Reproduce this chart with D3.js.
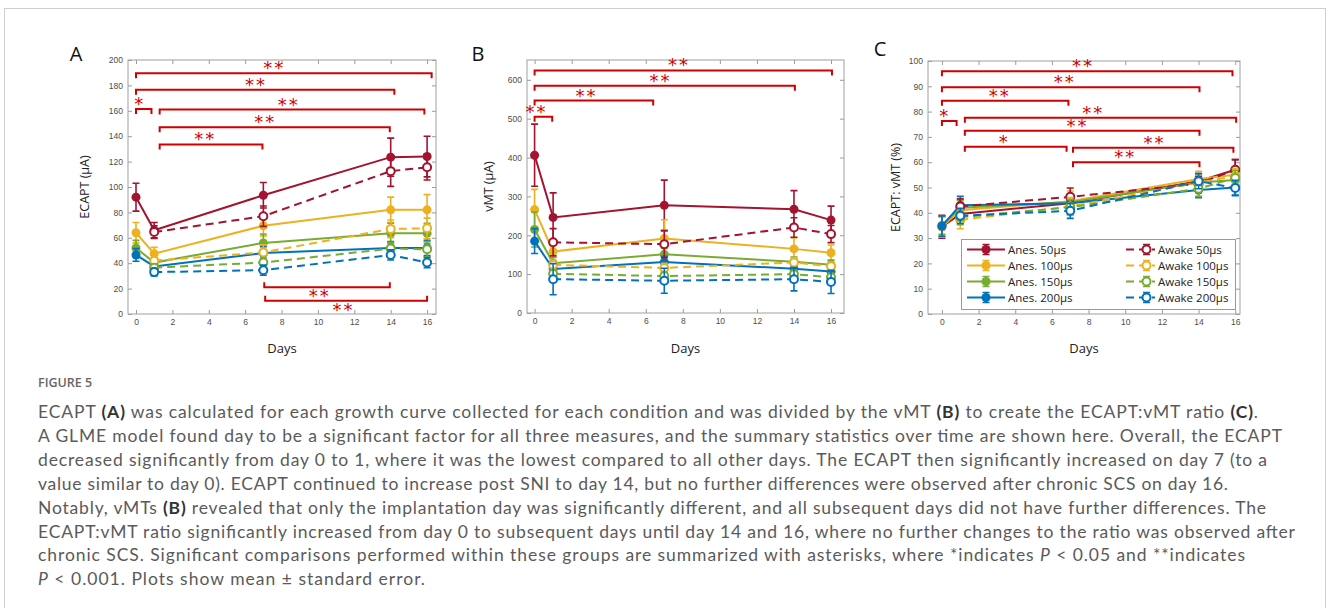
<!DOCTYPE html>
<html>
<head>
<meta charset="utf-8">
<script src="https://cdn.jsdelivr.net/npm/d3@7"></script>
<style>
  body { margin: 0; background: #fff; }
  svg { display: block; }
</style>
</head>
<body>
<svg id="fig"></svg>
<script>
// Days sampled
const days = [0, 1, 7, 14, 16];
const awakeDays = [1, 7, 14, 16];
const dayTicks = [0, 2, 4, 6, 8, 10, 12, 14, 16];
const pulseWidths = ['50μs', '100μs', '150μs', '200μs'];
const colors = ['#A2142F', '#EDB120', '#77AC30', '#0072BD'];

// Panel A: ECAPT (uA), rows = pulse width
const ecaptAnesMean = [
  [92, 66, 93.5, 123.5, 124],
  [64, 47.5, 69.5, 82, 82],
  [52, 40.5, 56, 63.5, 63.5],
  [46.5, 37.5, 48, 52, 52]
];
const ecaptAnesSe = [
  [11, 6, 10, 15, 16],
  [8, 5, 8, 10, 12],
  [6, 3, 7, 8, 8],
  [5, 2, 5, 5, 6]
];
const ecaptAwakeMean = [
  [64.5, 77, 112.5, 115.5],
  [42, 48.5, 67, 67.5],
  [36.5, 40.5, 51.5, 51],
  [33, 34.5, 46.5, 40.5]
];
const ecaptAwakeSe = [
  [5, 8, 12, 10],
  [5, 6, 7, 8],
  [3, 4, 5, 6],
  [3, 4, 4, 4]
];

// Panel B: vMT (uA)
const vmtAnesMean = [
  [406, 246, 277, 267, 239],
  [266, 158, 192, 165, 155],
  [215, 128, 151, 132, 124],
  [185, 113, 131, 114, 107]
];
const vmtAnesSe = [
  [80, 63, 65, 48, 36],
  [52, 25, 48, 28, 20],
  [45, 15, 15, 12, 12],
  [32, 15, 15, 12, 12]
];
const vmtAwakeMean = [
  [182, 177, 220, 203],
  [124, 116, 130, 120],
  [101, 95, 100, 92],
  [87, 83, 87, 80]
];
const vmtAwakeSe = [
  [35, 35, 25, 22],
  [12, 12, 12, 10],
  [10, 10, 10, 10],
  [40, 32, 30, 30]
];

// Panel C: ECAPT:vMT ratio (%)
const ratioAnesMean = [
  [34.5, 39.5, 43.8, 52.5, 57],
  [34.5, 41, 44.6, 53.4, 55],
  [35, 42, 44.2, 52, 53],
  [34.8, 43, 43.8, 49, 50]
];
const ratioAnesSe = [
  [4.5, 3, 3, 3, 4],
  [4, 4, 4, 3, 3],
  [3.5, 3, 3, 3, 3],
  [4, 3.5, 3, 3, 3]
];
const ratioAwakeMean = [
  [42.5, 46.3, 51.5, 57],
  [37.2, 42.5, 52, 54.5],
  [38.3, 42.2, 49.5, 53.8],
  [38.8, 40.8, 52.5, 49.8]
];
const ratioAwakeSe = [
  [3, 3.5, 3, 4],
  [3.5, 3.5, 3, 3],
  [3, 3, 3, 3],
  [3, 3, 3, 3]
];

// Significance brackets: [fromDay, toDay, level, starDay, stars, side]
const bracketsA = [
  [0, 16.25, 189.5, 7.6, '**', 'up'],
  [0, 14.2, 176.5, 6.6, '**', 'up'],
  [0, 0.85, 161.5, 0.2, '*', 'up'],
  [1.3, 15.85, 161, 8.4, '**', 'up'],
  [1.3, 13.95, 147, 7.1, '**', 'up'],
  [1.3, 6.95, 133.5, 3.8, '**', 'up'],
  [7.05, 13.95, 21, 10.1, '**', 'down'],
  [7.1, 16, 10.5, 11.4, '**', 'down']
];
const bracketsB = [
  [0, 16.05, 624, 7.8, '**', 'up'],
  [0, 14.05, 584.5, 6.8, '**', 'up'],
  [0, 6.4, 546.5, 2.8, '**', 'up'],
  [0, 0.95, 505, 0.1, '**', 'up']
];
const bracketsC = [
  [0, 15.85, 95.9, 7.7, '**', 'up'],
  [0, 14.05, 89.6, 6.7, '**', 'up'],
  [0, 6.9, 84.3, 3.15, '**', 'up'],
  [0, 0.8, 76.3, 0.15, '*', 'up'],
  [1.25, 16.05, 77.6, 8.25, '**', 'up'],
  [1.25, 14.05, 72.4, 7.4, '**', 'up'],
  [1.25, 6.8, 66.1, 3.4, '*', 'up'],
  [7.15, 15.9, 65.7, 11.6, '**', 'up'],
  [7.15, 14.05, 60, 10, '**', 'up']
];

// Caption
const captionLines = [
  [['ECAPT '], ['(A)', 'b'], [' was calculated for each growth curve collected for each condition and was divided by the vMT '], ['(B)', 'b'], [' to create the ECAPT:vMT ratio '], ['(C)', 'b'], ['.']],
  [['A GLME model found day to be a significant factor for all three measures, and the summary statistics over time are shown here. Overall, the ECAPT']],
  [['decreased significantly from day 0 to 1, where it was the lowest compared to all other days. The ECAPT then significantly increased on day 7 (to a']],
  [['value similar to day 0). ECAPT continued to increase post SNI to day 14, but no further differences were observed after chronic SCS on day 16.']],
  [['Notably, vMTs '], ['(B)', 'b'], [' revealed that only the implantation day was significantly different, and all subsequent days did not have further differences. The']],
  [['ECAPT:vMT ratio significantly increased from day 0 to subsequent days until day 14 and 16, where no further changes to the ratio was observed after']],
  [['chronic SCS. Significant comparisons performed within these groups are summarized with asterisks, where *indicates '], ['P', 'i'], [' < 0.05 and **indicates']],
  [['P', 'i'], [' < 0.001. Plots show mean ± standard error.']]
];
const captionLineEnds = [1258, 1282, 1267, 1228, 1266, 1295, 1245, 425];

const width = 1328;
const height = 608;

const svg = d3.select('#fig')
  .attr('width', width)
  .attr('height', height)
  .style('font-family', '"Liberation Sans", Arial, sans-serif');

svg.append('rect').attr('width', width).attr('height', height).attr('fill', '#fff');

// outer figure frame
svg.append('rect')
  .attr('x', 4.5).attr('y', 8.5)
  .attr('width', 1321).attr('height', 660)
  .attr('fill', 'none').attr('stroke', '#cfcfcf');

const panels = [
  {
    letter: 'A', letterX: 76, letterY: 61, left: 128, right: 436, top: 60, bottom: 314,
    xDomain: [-0.44, 16.49], yDomain: [0, 200], yTicks: d3.range(0, 201, 20),
    ylabel: 'ECAPT (μA)', ylabelX: 89,
    anesMean: ecaptAnesMean, anesSe: ecaptAnesSe, awakeMean: ecaptAwakeMean, awakeSe: ecaptAwakeSe,
    brackets: bracketsA
  },
  {
    letter: 'B', letterX: 478, letterY: 61, left: 527, right: 844, top: 60, bottom: 313,
    xDomain: [-0.41, 16.7], yDomain: [0, 651], yTicks: d3.range(0, 601, 100),
    ylabel: 'vMT (μA)', ylabelX: 493,
    anesMean: vmtAnesMean, anesSe: vmtAnesSe, awakeMean: vmtAwakeMean, awakeSe: vmtAwakeSe,
    brackets: bracketsB
  },
  {
    letter: 'C', letterX: 880, letterY: 56, left: 928, right: 1240, top: 61, bottom: 314,
    xDomain: [-0.76, 16.26], yDomain: [0, 100], yTicks: d3.range(0, 101, 10),
    ylabel: 'ECAPT: vMT (%)', ylabelX: 900,
    anesMean: ratioAnesMean, anesSe: ratioAnesSe, awakeMean: ratioAwakeMean, awakeSe: ratioAwakeSe,
    brackets: bracketsC, legend: true
  }
];

function styleAxis(sel) {
  sel.select('.domain').remove();
  sel.selectAll('.tick line').attr('stroke', '#9a9a9a');
  sel.selectAll('.tick text')
    .attr('fill', '#4d4d4d')
    .style('font-size', '8.5px')
    .style('font-family', '"Liberation Sans", Arial, sans-serif');
}

function errorBar(g, x, y, d, color) {
  const cap = 3.5;
  const yHi = y(d.v + d.se), yLo = y(d.v - d.se), cx = x(d.day);
  g.append('path')
    .attr('d', `M${cx},${yHi}V${yLo}M${cx - cap},${yHi}H${cx + cap}M${cx - cap},${yLo}H${cx + cap}`)
    .attr('stroke', color).attr('stroke-width', 1.6).attr('fill', 'none');
}

function drawPanel(p) {
  const g = svg.append('g');
  const x = d3.scaleLinear().domain(p.xDomain).range([p.left, p.right]);
  const y = d3.scaleLinear().domain(p.yDomain).range([p.bottom, p.top]);

  // axes, MATLAB style ticks pointing in
  g.append('g').attr('transform', `translate(0,${p.bottom})`)
    .call(d3.axisBottom(x).tickValues(dayTicks).tickSize(-4).tickPadding(5))
    .call(styleAxis);
  g.append('g').attr('transform', `translate(0,${p.top})`)
    .call(d3.axisTop(x).tickValues(dayTicks).tickSize(-4).tickFormat(''))
    .call(styleAxis);
  g.append('g').attr('transform', `translate(${p.left},0)`)
    .call(d3.axisLeft(y).tickValues(p.yTicks).tickSize(-4).tickPadding(5))
    .call(styleAxis);
  g.append('g').attr('transform', `translate(${p.right},0)`)
    .call(d3.axisRight(y).tickValues(p.yTicks).tickSize(-4).tickFormat(''))
    .call(styleAxis);

  g.append('rect')
    .attr('x', p.left).attr('y', p.top)
    .attr('width', p.right - p.left).attr('height', p.bottom - p.top)
    .attr('fill', 'none').attr('stroke', '#a0a0a0');

  // labels
  svg.append('text')
    .attr('x', p.letterX).attr('y', p.letterY)
    .attr('text-anchor', 'middle')
    .style('font-family', '"Open Sans", sans-serif')
    .style('font-size', '20px')
    .attr('fill', '#111')
    .text(p.letter);

  svg.append('text')
    .attr('transform', `translate(${p.ylabelX},${(p.top + p.bottom) / 2}) rotate(-90)`)
    .attr('text-anchor', 'middle')
    .style('font-family', '"Open Sans", sans-serif')
    .style('font-size', '12.5px')
    .attr('fill', '#222')
    .text(p.ylabel);

  svg.append('text')
    .attr('x', (p.left + p.right) / 2).attr('y', 353)
    .attr('text-anchor', 'middle')
    .style('font-family', '"Open Sans", sans-serif')
    .style('font-size', '13px')
    .attr('fill', '#222')
    .text('Days');

  const line = d3.line().x(d => x(d.day)).y(d => y(d.v));

  // anesthetized series (solid, filled markers)
  p.anesMean.forEach((row, i) => {
    const pts = days.map((day, k) => ({ day: day, v: row[k], se: p.anesSe[i][k] }));
    const sg = g.append('g');
    pts.forEach(d => errorBar(sg, x, y, d, colors[i]));
    sg.append('path').datum(pts).attr('d', line)
      .attr('fill', 'none').attr('stroke', colors[i]).attr('stroke-width', 2);
    sg.selectAll('circle').data(pts).enter().append('circle')
      .attr('cx', d => x(d.day)).attr('cy', d => y(d.v)).attr('r', 4.5)
      .attr('fill', colors[i]);
  });

  // awake series (dashed, open markers)
  p.awakeMean.forEach((row, i) => {
    const pts = awakeDays.map((day, k) => ({ day: day, v: row[k], se: p.awakeSe[i][k] }));
    const sg = g.append('g');
    pts.forEach(d => errorBar(sg, x, y, d, colors[i]));
    sg.append('path').datum(pts).attr('d', line)
      .attr('fill', 'none').attr('stroke', colors[i]).attr('stroke-width', 2)
      .attr('stroke-dasharray', '8,5');
    sg.selectAll('circle').data(pts).enter().append('circle')
      .attr('cx', d => x(d.day)).attr('cy', d => y(d.v)).attr('r', 4)
      .attr('fill', '#fff').attr('stroke', colors[i]).attr('stroke-width', 2);
  });

  // significance brackets
  p.brackets.forEach(b => {
    const x1 = x(b[0]), x2 = x(b[1]), yy = y(b[2]);
    const t = b[5] === 'up' ? 5 : -5;
    g.append('path')
      .attr('d', `M${x1},${yy + t}V${yy}H${x2}V${yy + t}`)
      .attr('fill', 'none').attr('stroke', '#d00000').attr('stroke-width', 2);
    const cy = b[5] === 'up' ? yy - 9 : yy + 5;
    g.append('text')
      .attr('x', x(b[3])).attr('y', cy + 10)
      .attr('text-anchor', 'middle')
      .style('font-family', '"DejaVu Sans", sans-serif')
      .style('font-size', '18px')
      .style('letter-spacing', '2px')
      .attr('fill', '#d00000')
      .text(b[4]);
  });

  if (p.legend) drawLegend(g);
}

function drawLegend(g) {
  const lx = 961.5, ly = 239.5, lw = 274, lh = 70;
  g.append('rect')
    .attr('x', lx).attr('y', ly).attr('width', lw).attr('height', lh)
    .attr('fill', '#fff').attr('stroke', '#9a9a9a');
  const rows = [249.5, 265.5, 281.5, 297.5];
  const cols = [
    { x1: 967, x2: 1005, text: 'Anes. ', open: false },
    { x1: 1126, x2: 1155, text: 'Awake ', open: true }
  ];
  cols.forEach(c => {
    pulseWidths.forEach((pw, i) => {
      const yy = rows[i];
      const mx = c.open ? 1146.5 : (c.x1 + c.x2) / 2;
      g.append('line')
        .attr('x1', c.x1).attr('x2', c.x2).attr('y1', yy).attr('y2', yy)
        .attr('stroke', colors[i]).attr('stroke-width', 2)
        .attr('stroke-dasharray', c.open ? '8,5' : null);
      g.append('path')
        .attr('d', `M${mx},${yy - 5}V${yy + 5}M${mx - 3.5},${yy - 5}H${mx + 3.5}M${mx - 3.5},${yy + 5}H${mx + 3.5}`)
        .attr('stroke', colors[i]).attr('stroke-width', 1.6).attr('fill', 'none');
      g.append('circle')
        .attr('cx', mx).attr('cy', yy).attr('r', c.open ? 4 : 4.5)
        .attr('fill', c.open ? '#fff' : colors[i])
        .attr('stroke', c.open ? colors[i] : 'none').attr('stroke-width', 2);
      g.append('text')
        .attr('x', c.x2 + 3).attr('y', yy + 4)
        .style('font-family', '"Open Sans", sans-serif')
        .style('font-size', '11.5px')
        .attr('fill', '#222')
        .text(c.text + pw);
    });
  });
}

panels.forEach(drawPanel);

// Caption block
svg.append('text')
  .attr('x', 38).attr('y', 387)
  .style('font-family', '"Open Sans", sans-serif')
  .style('font-size', '12.5px')
  .style('font-weight', 600)
  .attr('fill', '#666')
  .text('FIGURE 5');

captionLines.forEach((segs, li) => {
  const t = svg.append('text')
    .attr('x', 38).attr('y', 418 + li * 23.9)
    .attr('textLength', captionLineEnds[li] - 38)
    .attr('lengthAdjust', 'spacing')
    .style('font-family', 'Lato, sans-serif')
    .style('font-size', '17.5px')
    .attr('fill', '#5a5a5a');
  segs.forEach(s => {
    const ts = t.append('tspan').text(s[0]);
    if (s[1] === 'b') ts.style('font-weight', 700).attr('fill', '#333');
    if (s[1] === 'i') ts.style('font-style', 'italic');
  });
});
</script>
</body>
</html>
